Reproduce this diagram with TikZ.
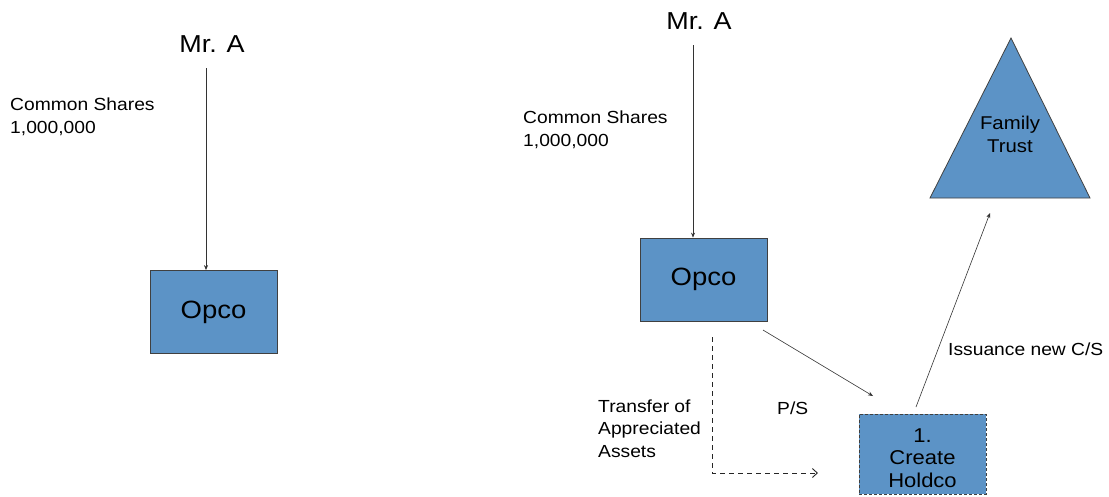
\documentclass[tikz,border=0pt]{standalone}
\usepackage{fontspec}
\setmainfont{Liberation Sans}[FakeStretch=1.1]
\usetikzlibrary{arrows.meta}
\definecolor{boxblue}{HTML}{5C93C6}
\begin{document}
\begin{tikzpicture}[x=1pt,y=-1pt,
  entity/.style={draw=black!75,fill=boxblue,line width=0.8pt,minimum width=127pt,minimum height=83pt,inner sep=0pt,font=\fontsize{25}{28}\selectfont},
  person/.style={font=\fontsize{24.5}{28}\selectfont,inner sep=0pt,anchor=base},
  lbl/.style={font=\fontsize{17.5}{23}\selectfont,align=left,anchor=base west,inner sep=0pt},
  conn/.style={draw=black!80,line width=0.6pt,-{Stealth[length=5pt,width=4pt]}},
  dconn/.style={draw=black!85,line width=0.9pt,dash pattern=on 5pt off 4pt,-{Straight Barb[length=5pt,width=9pt]}}]
\useasboundingbox (0,0) rectangle (1109,496);
% left
\node[person] (mrA1) at (212,52) {Mr. A};
\node[entity] (opco1) at (213.5,312) {Opco};
\draw[conn] (206,68) -- (opco1.north -| 206,0);
\node[lbl] (cs1) at (10,133) {Common Shares\\1,000,000};
% right
\node[person] (mrA2) at (699,29) {Mr. A};
\node[entity] (opco2) at (703.5,279.5) {Opco};
\draw[conn] (693,45) -- (opco2.north -| 693,0);
\node[lbl] (cs2) at (523,146) {Common Shares\\1,000,000};
\draw[draw=black!75,fill=boxblue,line width=0.8pt] (1011,38) -- (1090,198) -- (930,198) -- cycle;
\node[font=\fontsize{18.5}{23}\selectfont,align=center,inner sep=0pt] (trust) at (1010,134) {Family\\Trust};
\node[entity,dash pattern=on 3pt off 2pt,minimum height=80pt,font=\fontsize{20}{22.5}\selectfont,align=center,anchor=north,text depth=0pt] (holdco) at (922.5,414) {};
\node[font=\fontsize{20}{22.5}\selectfont,align=center,inner sep=0pt,anchor=base] (holdcolbl) at (922.5,487) {1.\\Create\\Holdco};
\coordinate (oc) at (763,330);
\coordinate (hc) at (873,396);
\draw[conn] (oc) -- (hc);
\coordinate (hs) at (916,407);
\coordinate (tb) at (990,213);
\draw[conn] (hs) -- (tb);
\node[lbl] (iss) at (948,355) {Issuance new C/S};
\node[lbl] (ps) at (777,414) {P/S};
\node[lbl,font=\fontsize{17.5}{22.5}\selectfont] (tr) at (598,457) {Transfer of\\Appreciated\\Assets};
\coordinate (d0) at (712,337);
\coordinate (d1) at (712,473);
\coordinate (d2) at (818,473);
\draw[dconn] (d0) -- (d1) -- (d2);
\end{tikzpicture}
\end{document}
